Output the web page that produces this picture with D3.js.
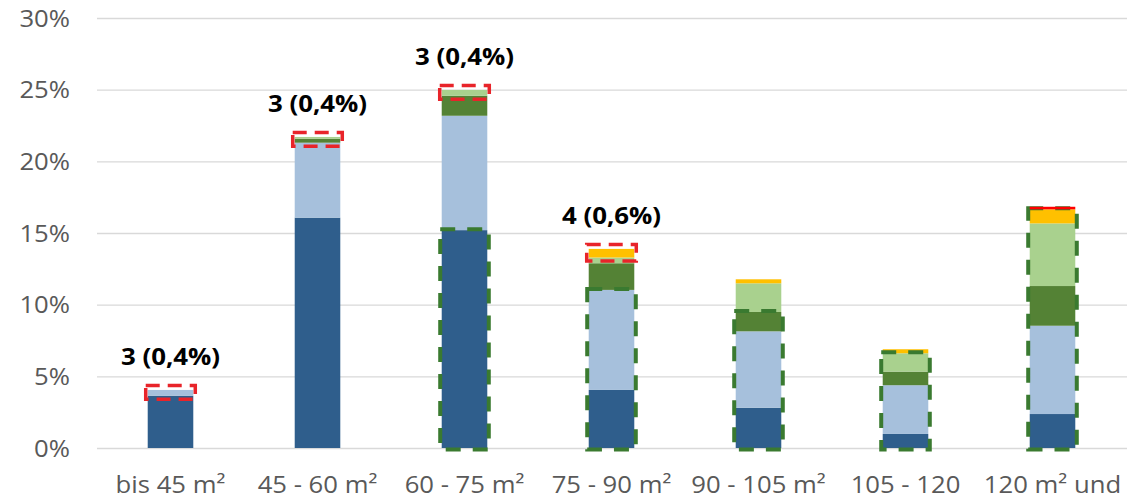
<!DOCTYPE html>
<html>
<head>
<meta charset="utf-8">
<script src="https://cdn.jsdelivr.net/npm/d3@7"></script>
<style>
  html, body { margin: 0; padding: 0; background: #fff; }
  svg { display: block; }
  text { font-family: "Open Sans", "Noto Sans", sans-serif; }
</style>
</head>
<body>
<svg id="chart" width="1127" height="501"></svg>
<script>
// Wohnflächenklassen (x axis)
const categories = ["bis 45 m²", "45 - 60 m²", "60 - 75 m²", "75 - 90 m²", "90 - 105 m²", "105 - 120", "120 m² und"];

// Anteile je Segment in Prozent, von unten nach oben gestapelt
const darkBlue   = [3.65, 16.07, 15.2, 4.05, 2.81, 0.98, 2.37];
const lightBlue  = [0.4, 5.23, 7.98, 6.98, 5.33, 3.4, 6.16];
const darkGreen  = [0, 0.28, 1.4, 1.86, 1.35, 0.95, 2.77];
const lightGreen = [0, 0.12, 0.4, 0.4, 2.0, 1.28, 4.37];
const yellow     = [0, 0, 0, 0.6, 0.28, 0.28, 0.98];
const red        = [0, 0, 0, 0, 0, 0, 0.18];

const yTicks = [0, 5, 10, 15, 20, 25, 30];

// rot markierte Segmente: Kategorie, erstes und letztes Segment, Anzahl
const redCat   = [0, 1, 2, 3];
const redFrom  = [1, 2, 3, 4];
const redTo    = [1, 3, 3, 4];
const redCount = [3, 3, 3, 4];

// grün markierte Bereiche: Kategorie und oberstes eingeschlossenes Segment
const greenCat = [2, 3, 4, 5, 6];
const greenTo  = [0, 1, 2, 3, 4];

const seriesKeys = ["darkBlue", "lightBlue", "darkGreen", "lightGreen", "yellow", "red"];
const seriesColors = ["#2F5E8C", "#A6C0DC", "#548235", "#A9D18E", "#FFC000", "#FF0000"];
const seriesValues = [darkBlue, lightBlue, darkGreen, lightGreen, yellow, red];

const rows = categories.map((c, i) => {
  const r = { cat: c };
  seriesKeys.forEach((k, s) => r[k] = seriesValues[s][i]);
  return r;
});
const stacked = d3.stack().keys(seriesKeys)(rows);

const svg = d3.select("#chart");
const W = 1127;
const plotLeft = 97, plotRight = 1126, plotTop = 18, plotBottom = 448;

const x = d3.scaleBand().domain(categories).range([plotLeft, plotRight]).paddingInner(0.69).paddingOuter(0.345);
const y = d3.scaleLinear().domain([0, 30]).range([plotBottom, plotTop]);

// Gitternetzlinien
svg.append("g")
  .attr("transform", `translate(${plotLeft},0)`)
  .call(d3.axisLeft(y).tickValues(yTicks).tickSize(-(W - plotLeft)).tickFormat(""))
  .call(g => g.select(".domain").remove())
  .call(g => g.selectAll(".tick line").attr("stroke", "#D9D9D9").attr("stroke-width", 1.3));

// Beschriftung der y-Achse
svg.append("g").selectAll("text")
  .data(yTicks)
  .join("text")
  .attr("transform", d => `translate(70,${y(d)}) scale(1.07,1)`)
  .attr("dy", "0.36em")
  .attr("text-anchor", "end")
  .attr("font-size", 24)
  .attr("fill", "#595959")
  .text(d => d + "%");

// gestapelte Säulen
const layers = svg.append("g").selectAll("g")
  .data(stacked)
  .join("g")
  .attr("fill", (d, i) => seriesColors[i]);

layers.selectAll("rect")
  .data(d => d)
  .join("rect")
  .attr("x", d => x(d.data.cat))
  .attr("width", x.bandwidth())
  .attr("y", d => y(d[1]))
  .attr("height", d => y(d[0]) - y(d[1]));

// Beschriftung der x-Achse
svg.append("g").selectAll("text")
  .data(categories)
  .join("text")
  .attr("transform", d => `translate(${x(d) + x.bandwidth() / 2},493) scale(1.07,1)`)
  .attr("text-anchor", "middle")
  .attr("font-size", 24)
  .attr("fill", "#595959")
  .text(d => d);

// grün gestrichelte Rahmen
svg.append("g").selectAll("rect")
  .data(greenCat.map((c, i) => ({ c, to: greenTo[i] })))
  .join("rect")
  .attr("x", d => x(categories[d.c]) - 1.5)
  .attr("width", x.bandwidth() + 3)
  .attr("y", d => y(stacked[d.to][d.c][1]) - 1)
  .attr("height", d => y(0) - y(stacked[d.to][d.c][1]) + 2.5)
  .attr("fill", "none")
  .attr("stroke", "#3A7A30")
  .attr("stroke-width", 4)
  .attr("stroke-dasharray", "15,12");

// oberste Serie liegt über den Rahmen
svg.node().appendChild(layers.filter((d, i) => i === seriesKeys.length - 1).node());

// rot gestrichelte Rahmen mit Anzahl und Anteil
const redData = redCat.map((c, i) => {
  const topV = stacked[redTo[i]][c][1];
  const botV = stacked[redFrom[i]][c][0];
  return { c, topV, botV, count: redCount[i], share: topV - botV };
});

svg.append("g").selectAll("rect")
  .data(redData)
  .join("rect")
  .attr("x", d => x(categories[d.c]) - 2)
  .attr("width", x.bandwidth() + 4)
  .attr("y", d => y(d.topV) - 4.5)
  .attr("height", d => y(d.botV) - y(d.topV) + 8)
  .attr("fill", "none")
  .attr("stroke", "#E8242A")
  .attr("stroke-width", 3.5)
  .attr("stroke-dasharray", "14,8");

const fmt = v => d3.format(".1f")(v).replace(".", ",");
svg.append("g").selectAll("text")
  .data(redData)
  .join("text")
  .attr("transform", d => `translate(${x(categories[d.c]) + x.bandwidth() / 2},${y(d.topV) - 25}) scale(1.1,1)`)
  .attr("text-anchor", "middle")
  .attr("font-size", 23.5)
  .attr("font-weight", "bold")
  .attr("fill", "#000")
  .text(d => `${d.count} (${fmt(d.share)}%)`);
</script>
</body>
</html>
